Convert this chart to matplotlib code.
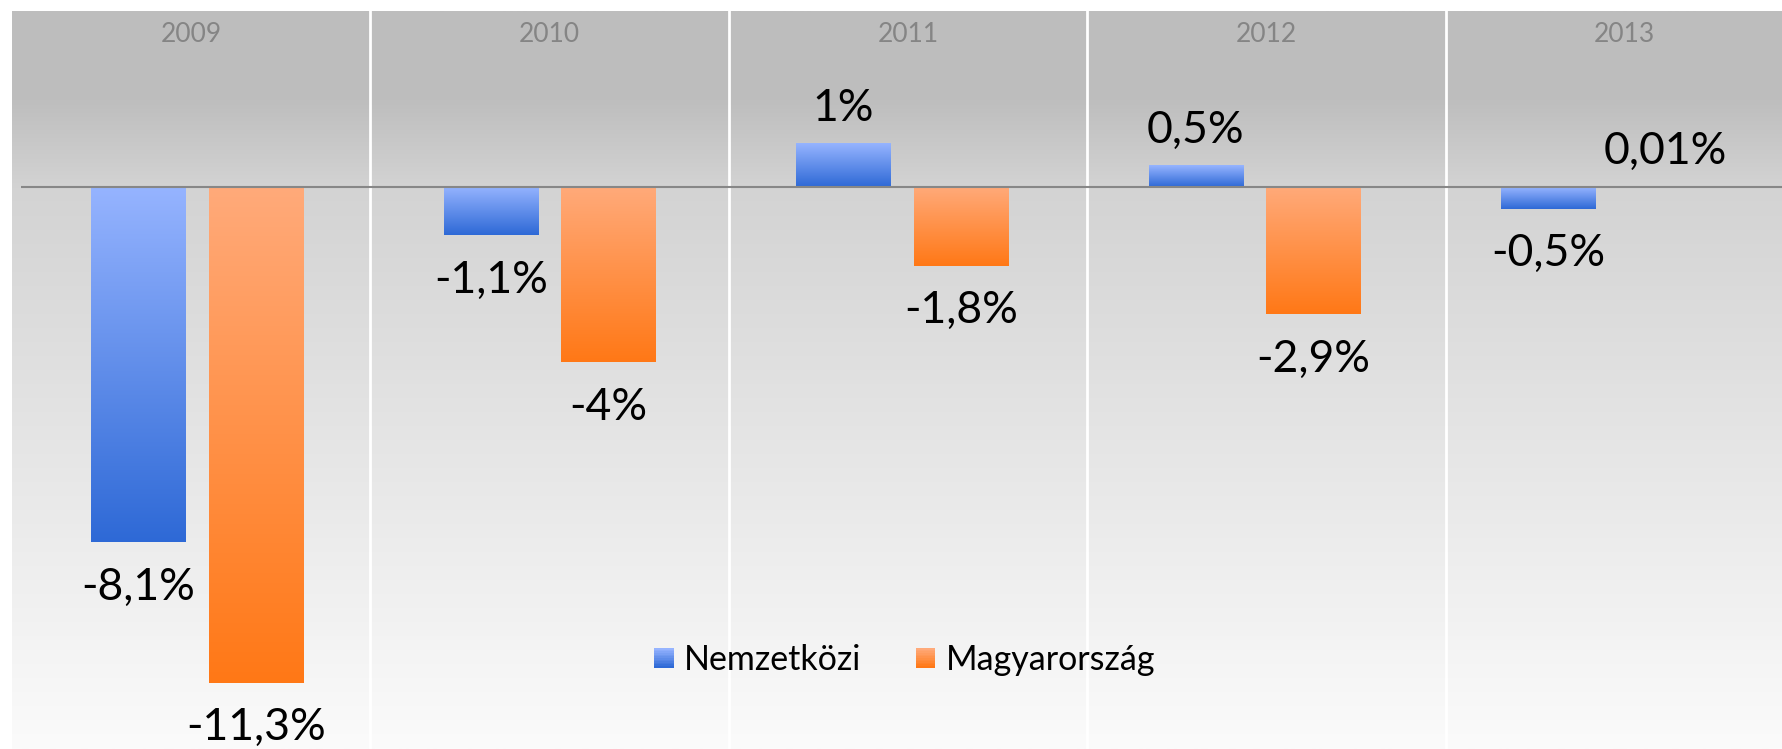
import numpy as np
import matplotlib
matplotlib.use("Agg")
import matplotlib.pyplot as plt
from matplotlib.colors import LinearSegmentedColormap
from matplotlib.patches import Rectangle
from matplotlib.legend_handler import HandlerBase

# ---------------- data ----------------
years = ["2009", "2010", "2011", "2012", "2013"]
series_names = ["Nemzetközi", "Magyarország"]
nemzetkozi = [-8.1, -1.1, 1.0, 0.5, -0.5]
magyarorszag = [-11.3, -4.0, -1.8, -2.9, 0.01]

# ---------------- style ----------------
W, H = 1783, 749
DPI = 100
blue_light, blue_dark = "#96b4ff", "#2e69d6"
orange_light, orange_dark = "#ffaa7a", "#ff7816"
label_font = ["Lato", "DejaVu Sans"]
cat_font = ["Lato", "DejaVu Sans"]

fig = plt.figure(figsize=(W / DPI, H / DPI), dpi=DPI)
fig.patch.set_facecolor("white")

# ---------- background panel (header table with year columns) ----------
bg_left, bg_top = 12, 11
col_w = 358.4
bg = fig.add_axes([bg_left / W, 0, (W - bg_left) / W, (H - bg_top) / H], zorder=0)
ncols_visible = (W - bg_left) / col_w
bg.set_xlim(0, ncols_visible)
bg.set_ylim(0, 1)
ys = np.linspace(0, 1, 400)  # 0 = top
pix = bg_top + ys * (H - bg_top)
vals = np.interp(pix, [11, 100, 187, 749], [189, 190, 211, 251]) / 255.0
grad = np.repeat(vals.reshape(-1, 1), 2, axis=1)
bg.imshow(np.dstack([grad, grad, grad]), extent=[0, ncols_visible, 0, 1],
          aspect="auto", origin="upper", interpolation="bilinear")
for i in range(1, len(years)):
    bg.axvline(i, color="white", lw=2.0)
for i, y in enumerate(years):
    bg.text(i + 0.5, 1 - (34 - bg_top) / (H - bg_top), y, ha="center", va="center",
            fontsize=19, color="#858585", family=cat_font)
bg.set_axis_off()

# ---------------- main plot ----------------
px_per_unit = 43.9
zero_px = 186.7
ax = fig.add_axes([21 / W, 0, (W - 21) / W, 1], zorder=1)
ax.patch.set_alpha(0)
ymax = zero_px / px_per_unit
ymin = -(H - zero_px) / px_per_unit

x = np.arange(len(years)) + 0.5
bw = 0.267
off = 0.1666

cmap_blue = LinearSegmentedColormap.from_list("b", [blue_light, blue_dark])
cmap_orange = LinearSegmentedColormap.from_list("o", [orange_light, orange_dark])
gradcol = np.linspace(0, 1, 256).reshape(-1, 1)

def gradient_bars(bars, cmap):
    for b in bars:
        x0, y0 = b.get_x(), b.get_y()
        w, h = b.get_width(), b.get_height()
        lo, hi = min(y0, y0 + h), max(y0, y0 + h)
        im = ax.imshow(gradcol, extent=[x0, x0 + w, lo, hi], origin="upper",
                       aspect="auto", cmap=cmap, interpolation="bilinear", zorder=2)
        im.set_clip_path(b)
        b.set_facecolor("none")
        b.set_edgecolor("none")

b1 = ax.bar(x - off, nemzetkozi, bw, zorder=2)
b2 = ax.bar(x + off, magyarorszag, bw, zorder=2)
gradient_bars(b1, cmap_blue)
gradient_bars(b2, cmap_orange)

ax.axhline(0, color="#878787", lw=1.5, zorder=3)

def fmt(v):
    return f"{v:g}".replace(".", ",") + "%"

for bars, vals_ in ((b1, nemzetkozi), (b2, magyarorszag)):
    for b, v in zip(bars, vals_):
        cx = b.get_x() + b.get_width() / 2
        dy = 16 if v >= 0 else -41.5
        ax.annotate(fmt(v), (cx, v), xytext=(0, dy), textcoords="offset points",
                    ha="center", va="baseline", fontsize=32, family=label_font,
                    color="black", zorder=4)

ax.set_xlim(0, len(years))
ax.set_ylim(ymin, ymax)
ax.set_axis_off()

# ---------------- legend with gradient squares ----------------
class GradHandler(HandlerBase):
    def __init__(self, c1, c2, n=12):
        super().__init__()
        self.c1, self.c2, self.n = c1, c2, n

    def create_artists(self, legend, orig_handle, xdescent, ydescent, width, height,
                       fontsize, trans):
        cm = LinearSegmentedColormap.from_list("g", [self.c1, self.c2])
        arts = []
        side = min(width, height)
        x0 = -xdescent + (width - side) / 2
        y0 = -ydescent + (height - side) / 2
        for k in range(self.n):
            hk = side / self.n
            r = Rectangle((x0, y0 + side - (k + 1) * hk), side, hk * 1.05,
                          facecolor=cm(k / (self.n - 1)), edgecolor="none",
                          transform=trans)
            arts.append(r)
        return arts

h1 = Rectangle((0, 0), 1, 1)
h2 = Rectangle((0, 0), 1, 1)
fig.legend([h1, h2], series_names, loc="center",
           bbox_to_anchor=(904.5 / W, 1 - 660 / H), ncol=2, frameon=False,
           prop={"family": label_font, "size": 24.5},
           handlelength=0.58, handleheight=0.58, handletextpad=0.3,
           columnspacing=1.6,
           handler_map={h1: GradHandler(blue_light, blue_dark),
                        h2: GradHandler(orange_light, orange_dark)})

fig.savefig("out.png", dpi=DPI)
